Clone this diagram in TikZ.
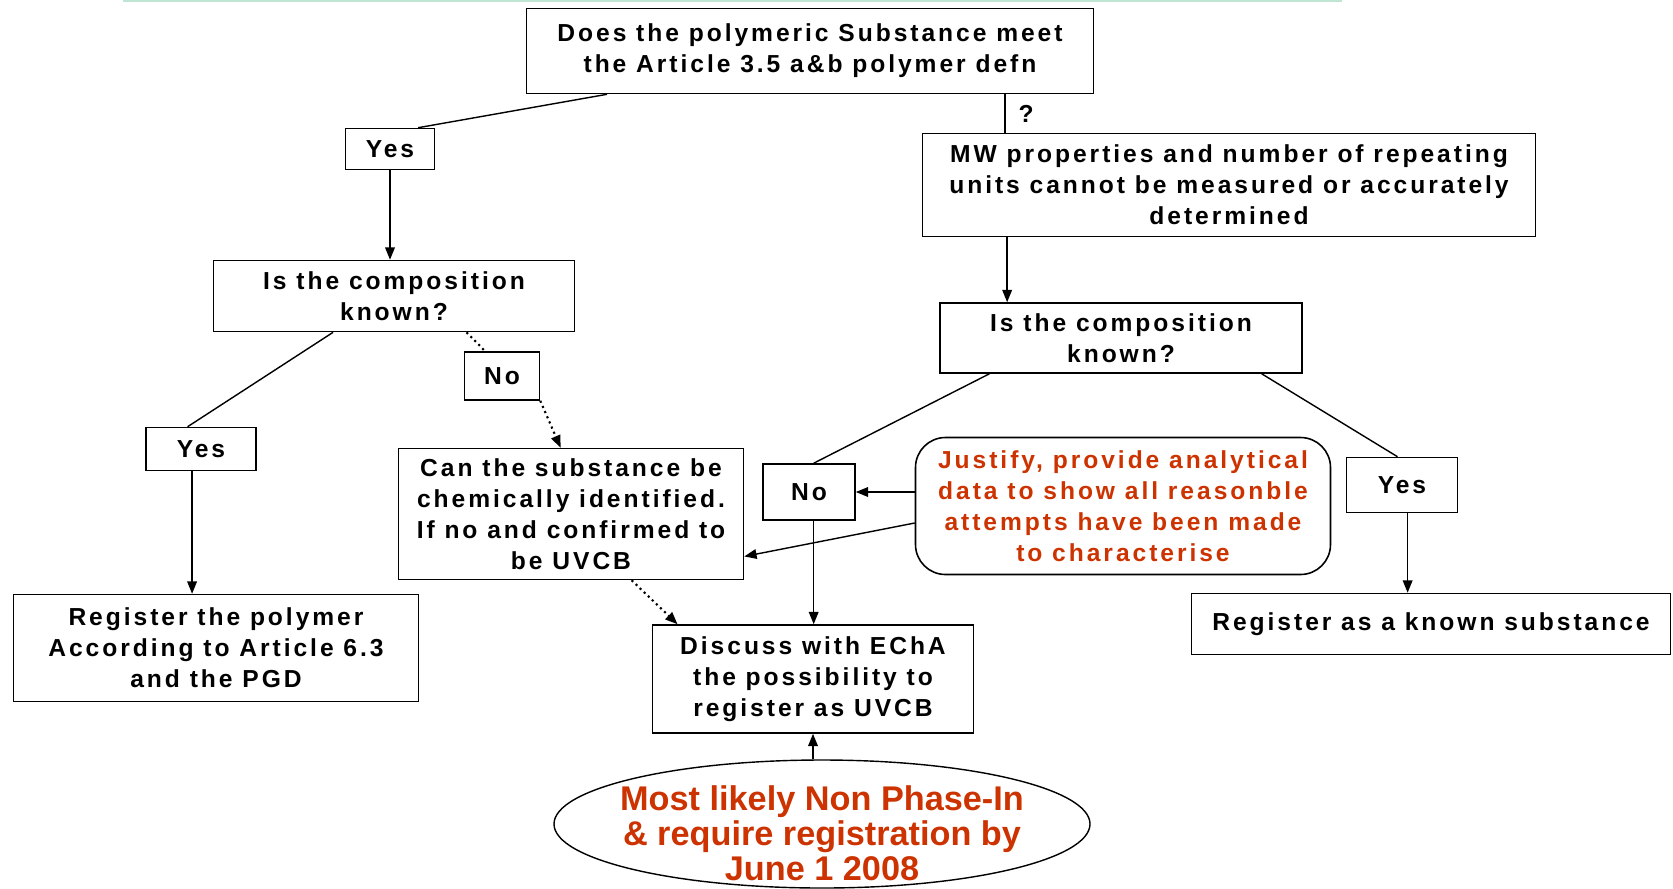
\documentclass[tikz,border=0pt]{standalone}
\usepackage{fontspec}
\usepackage{tikz}
\usetikzlibrary{shapes.geometric, arrows.meta, positioning, calc}
\usepackage[dvipsnames]{xcolor}

\newfontfamily\testobox[LetterSpace=12]{Liberation Sans}
\newfontfamily\testoovale{Liberation Sans}
\definecolor{rossomattone}{HTML}{CC3300}
\definecolor{verdino}{HTML}{BFE5D3}

\begin{document}
\begin{tikzpicture}[
  x=0.2mm, y=-0.2mm,
  font=\testobox\bfseries\fontsize{14}{17.6}\selectfont,
  blocco/.style={draw=black, line width=0.9pt, align=center, inner sep=0pt},
  scelta/.style={blocco},
  nota/.style={blocco, rounded corners=6mm, text=rossomattone},
  ovale/.style={draw=black, line width=0.8pt, ellipse, inner sep=0pt},
  scritta/.style={align=center, text=rossomattone,
                  font=\testoovale\bfseries\fontsize{19.5}{19.9}\selectfont},
  punta/.style={-{Triangle[length=7pt,width=5.5pt]}},
  linea/.style={draw=black, line width=0.8pt},
  collegamento/.style={linea, punta},
  puntini/.style={draw=black, line width=1.2pt, dotted},
  tentativo/.style={puntini, punta}
]
\useasboundingbox (0,0) rectangle (1673,888);

% riga in alto
\draw[verdino, line width=0.5mm] (123,1) -- (1342,1);

% domande
\node[blocco, minimum width=113.4mm, minimum height=17mm] (domanda) at (810,51)
  {Does the polymeric Substance meet\\the Article 3.5 a\&b polymer defn};
\node[blocco, minimum width=122.6mm, minimum height=20.6mm] (proprieta) at (1229,185)
  {MW properties and number of repeating\\units cannot be measured or accurately\\determined};
\node[blocco, minimum width=72.2mm, minimum height=14.2mm] (compSx) at (394,296)
  {Is the composition\\known?};
\node[blocco, minimum width=72.4mm, minimum height=14mm] (compDx) at (1121,338)
  {Is the composition\\known?};
\node[blocco, minimum width=69mm, minimum height=26.2mm] (identif) at (571,514)
  {Can the substance be\\chemically identified.\\If no and confirmed to\\be UVCB};

% risposte
\node[scelta, minimum width=17.8mm, minimum height=8.2mm] (siSx1) at (390,149) {Yes};
\node[scelta, minimum width=22mm, minimum height=8.6mm] (siSx2) at (201,449) {Yes};
\node[scelta, minimum width=15mm, minimum height=9.6mm] (noSx) at (502,376) {No};
\node[scelta, minimum width=18.4mm, minimum height=11.2mm] (noDx) at (809,492) {No};
\node[scelta, minimum width=22.2mm, minimum height=11mm] (siDx) at (1402,485) {Yes};

% esiti
\node[blocco, minimum width=81mm, minimum height=21.4mm] (registraPol) at (216,648)
  {Register the polymer\\According to Article 6.3\\and the PGD};
\node[blocco, minimum width=95.8mm, minimum height=12.2mm] (registraNoto) at (1431,624)
  {Register as a known substance};
\node[blocco, minimum width=64.2mm, minimum height=21.6mm] (discuti) at (813,679)
  {Discuss with EChA\\the possibility to\\register as UVCB};
\node[nota, minimum width=83mm, minimum height=27.4mm] (giustifica) at (1123,506)
  {Justify, provide analytical\\data to show all reasonble\\attempts have been made\\to characterise};
\node[ovale, minimum width=107.2mm, minimum height=25.6mm] (scadenza) at (822,824) {};
\node[scritta] (scadenzaTesto) at ([yshift=-1.8mm]scadenza.center)
  {Most likely Non Phase-In\\\& require registration by\\June 1 2008};

% collegamenti
\draw[linea] ($(domanda.south west)!0.143!(domanda.south east)$) -- ($(siSx1.north west)!0.81!(siSx1.north east)$);
\draw[linea] ($(domanda.south west)!0.843!(domanda.south east)$) coordinate (q)
  -- (q |- proprieta.north) node[midway, right=4pt] {?};
\draw[collegamento] (siSx1.south) -- (siSx1.south |- compSx.north);
\draw[collegamento] ($(proprieta.south west)!0.139!(proprieta.south east)$) coordinate (p)
  -- (p |- compDx.north);
\draw[linea] ($(compSx.south west)!0.332!(compSx.south east)$) -- ($(siSx2.north west)!0.38!(siSx2.north east)$);
\draw[collegamento] ($(siSx2.south west)!0.42!(siSx2.south east)$) coordinate (s)
  -- (s |- registraPol.north);
\draw[puntini] ($(compSx.south west)!0.70!(compSx.south east)$) -- ($(noSx.north west)!0.28!(noSx.north east)$);
\draw[tentativo] (noSx.south east) -- ($(identif.north west)!0.47!(identif.north east)$);
\draw[tentativo] ($(identif.south west)!0.675!(identif.south east)$) -- ($(discuti.north west)!0.08!(discuti.north east)$);
\draw[linea] ($(compDx.south west)!0.138!(compDx.south east)$) -- ($(noDx.north west)!0.55!(noDx.north east)$);
\draw[linea] ($(compDx.south west)!0.887!(compDx.south east)$) -- ($(siDx.north west)!0.46!(siDx.north east)$);
\draw[collegamento] ($(siDx.south west)!0.55!(siDx.south east)$) coordinate (t)
  -- (t |- registraNoto.north);
\draw[collegamento] ($(noDx.south west)!0.55!(noDx.south east)$) coordinate (n)
  -- (n |- discuti.north);
\draw[collegamento] (noDx.east -| giustifica.west) -- (noDx.east);
\draw[collegamento] ([yshift=-3.4mm]giustifica.west) -- ($(identif.north east)!0.82!(identif.south east)$);
\draw[collegamento] (discuti.south |- scadenza.north) -- (discuti.south);

\end{tikzpicture}
\end{document}
